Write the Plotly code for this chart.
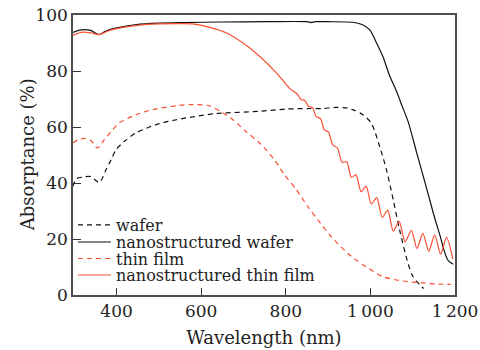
import plotly.graph_objects as go

# ---- data ----
wafer_x = [297, 305, 320, 339, 359, 375, 387, 399, 418, 446, 493, 541, 588, 635, 737, 800,
           856, 887, 919, 943, 958, 982, 1002, 1022, 1038, 1054, 1069, 1089, 1101, 1121, 1126]
wafer_y = [38.8, 41.5, 42.1, 42.3, 40.2, 44.7, 48.3, 51.9, 54.8, 57.9, 60.8, 62.6, 63.8, 64.8, 65.6, 66.4,
           66.6, 66.6, 67.0, 66.8, 66.2, 64.4, 61.4, 53.0, 44.7, 34.0, 23.3, 11.3, 6.5, 3.0, 2.3]

nwafer_x = [297, 310, 324, 340, 359, 375, 400, 447, 500, 555, 650, 750, 850, 860, 870, 900, 958,
            980, 998, 1014, 1030, 1045, 1061, 1075, 1089, 1110, 1133, 1152, 1165, 1175, 1183, 1190, 1196]
nwafer_y = [93.8, 94.5, 94.8, 94.4, 93.0, 94.3, 95.4, 96.6, 97.1, 97.3, 97.5, 97.6, 97.6, 97.3, 97.6, 97.6, 97.4,
            96.6, 94.8, 90.2, 85.0, 78.5, 73.0, 67.5, 62.0, 50.5, 38.0, 27.5, 21.0, 15.5, 12.5, 11.5, 11.0]

film_x = [297, 310, 324, 339, 355, 371, 387, 406, 446, 485, 548, 580, 619, 643, 675, 706, 738, 770,
          797, 825, 852, 880, 907, 951, 990, 1030, 1077, 1124, 1160, 1190]
film_y = [54.3, 55.5, 55.9, 55.2, 52.5, 55.5, 58.4, 61.4, 64.4, 66.2, 67.7, 68.0, 67.6, 65.8, 62.6, 58.4, 54.3, 48.9,
          42.9, 37.6, 31.6, 26.0, 20.9, 14.3, 10.1, 6.5, 5.0, 4.3, 3.9, 3.8]

nfilm_x = [297, 320, 340, 359, 380, 406, 450, 500, 550, 580, 620, 660, 700, 740, 780, 809,
           828, 836, 845, 854, 863, 872, 882, 891, 901, 911, 922, 933, 944, 955, 966, 978, 990,
           1002, 1015, 1028, 1041, 1054, 1068, 1082, 1097, 1110, 1124, 1138, 1152, 1166, 1180, 1195]
nfilm_y = [92.8, 93.9, 93.6, 93.0, 94.3, 95.3, 96.3, 96.8, 96.9, 96.8, 95.6, 93.6, 89.9, 85.0, 79.0, 73.8,
           71.6, 69.8, 69.5, 67.3, 67.0, 63.7, 63.0, 59.0, 58.2, 53.6, 52.5, 47.4, 47.6, 42.0, 42.9, 36.9, 38.9,
           32.5, 34.8, 27.7, 30.3, 22.8, 26.3, 19.0, 23.1, 16.6, 22.0, 15.6, 21.5, 14.6, 20.6, 12.8]

x_tickvals = [400, 600, 800, 1000, 1200]
x_ticktext = ["400", "600", "800", "1\u2009000", "1\u2009200"]
y_tickvals = [0, 20, 40, 60, 80, 100]

RED = "#fa4f33"
BLACK = "#111111"
FONT = "DejaVu Serif"

fig = go.Figure()
fig.add_trace(go.Scatter(x=wafer_x, y=wafer_y, mode="lines", name="wafer", legend="legend",
                         line=dict(color=BLACK, width=1.2, dash="5px,4px", shape="spline", smoothing=0.8)))
fig.add_trace(go.Scatter(x=nwafer_x, y=nwafer_y, mode="lines", name="nanostructured wafer", legend="legend2",
                         line=dict(color=BLACK, width=1.2, shape="spline", smoothing=0.8)))
fig.add_trace(go.Scatter(x=film_x, y=film_y, mode="lines", name="thin film", legend="legend3",
                         line=dict(color=RED, width=1.2, dash="5px,4px", shape="spline", smoothing=0.8)))
fig.add_trace(go.Scatter(x=nfilm_x, y=nfilm_y, mode="lines", name="nanostructured thin film", legend="legend4",
                         line=dict(color=RED, width=1.2, shape="spline", smoothing=0.7)))

axis_common = dict(showline=True, linecolor="#4d4d4d", linewidth=1.6, mirror=True,
                   ticks="inside", tickcolor="#333333", tickwidth=1.3,
                   showgrid=False, zeroline=False, automargin=False, ticklabeloverflow="allow",
                   tickfont=dict(family=FONT, size=17, color="#222222"))

fig.update_xaxes(range=[297, 1200], tickvals=x_tickvals, ticktext=x_ticktext, ticklen=7,
                 title=dict(text="Wavelength (nm)", font=dict(family=FONT, size=18, color="#222222"), standoff=11),
                 **axis_common)
fig.update_yaxes(range=[0, 100], tickvals=y_tickvals, ticklen=8, **axis_common)

fig.add_annotation(text="Absorptance (%)", xref="paper", yref="paper", x=-0.12, y=0.5,
                   xanchor="center", yanchor="middle", textangle=-90, showarrow=False,
                   font=dict(family=FONT, size=18, color="#222222"))

def leg(yc):
    return dict(x=0.0, y=yc, xanchor="left", yanchor="middle", itemwidth=33,
                bgcolor="rgba(0,0,0,0)", borderwidth=0, tracegroupgap=0,
                font=dict(family=FONT, size=16, color="#222222"))

fig.update_layout(
    width=480, height=350,
    margin=dict(l=73, r=25, t=15, b=55, autoexpand=False),
    paper_bgcolor="white", plot_bgcolor="white",
    showlegend=True,
    legend=leg(0.25), legend2=leg(0.189), legend3=leg(0.13), legend4=leg(0.071),
)

fig.write_html("out.html", config={"displayModeBar": False},
               post_script="document.body.style.margin='0px';document.body.style.overflow='hidden';")
